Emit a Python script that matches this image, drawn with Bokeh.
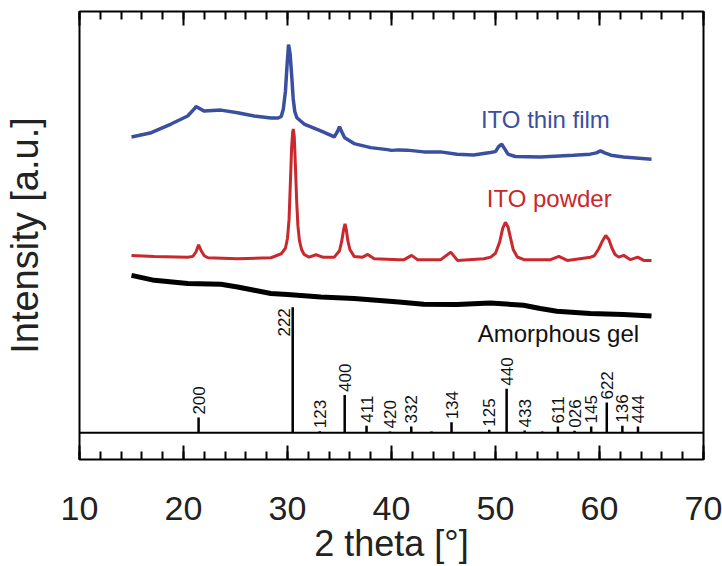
import math
from bokeh.plotting import figure
from bokeh.models import (Range1d, FixedTicker, LinearAxis, Span, Label, ColumnDataSource,
                          CustomLabelingPolicy)
from bokeh.core.properties import value
from bokeh.embed import file_html
from bokeh.resources import INLINE

# ---- data (2 theta in degrees, intensity in arbitrary units) ----
film_2theta = [15.0, 16.9, 18.8, 20.4, 21.1, 21.2, 22.0, 23.6, 25.2, 26.8, 28.4, 29.1,
               29.4, 29.6, 29.8, 29.95, 30.1, 30.25, 30.4, 30.55, 30.7, 30.9, 31.6, 33.2,
               34.5, 34.8, 35.0, 35.2, 35.5, 36.4, 38.0, 39.6, 40.0, 40.7, 41.5, 43.1,
               44.7, 46.3, 47.9, 49.5, 50.0, 50.3, 50.6, 50.9, 51.2, 51.9, 54.3, 57.5,
               59.1, 59.7, 60.1, 60.5, 61.1, 62.3, 65.0]
film_int = [235.7, 239.1, 246.0, 252.4, 258.7, 260.0, 256.3, 257.1, 255.0, 252.4, 250.8, 250.8,
            252.0, 258.0, 272.0, 292.0, 309.3, 302.0, 285.0, 266.0, 256.0, 251.0, 246.0, 240.5,
            235.7, 240.0, 243.9, 240.0, 235.0, 230.4, 227.2, 225.6, 225.0, 225.4, 225.2, 223.8,
            223.8, 222.0, 221.4, 223.3, 224.0, 228.0, 229.9, 226.0, 222.0, 220.1, 219.8, 221.2,
            222.0, 223.0, 224.6, 223.0, 221.2, 219.8, 218.0]

powder_2theta = [15.0, 17.2, 20.4, 20.9, 21.2, 21.45, 21.7, 22.0, 22.35, 25.2, 28.4, 29.4,
                 29.8, 30.0, 30.15, 30.28, 30.4, 30.5, 30.56, 30.65, 30.75, 30.88, 31.0,
                 31.15, 31.35, 31.6, 32.07, 32.74, 33.39, 34.5, 35.0, 35.2, 35.4, 35.53,
                 35.65, 35.8, 36.0, 36.4, 37.23, 37.71, 38.34, 40.74, 41.22, 41.93, 42.5,
                 44.74, 45.7, 46.34, 48.9, 49.54, 50.0, 50.4, 50.7, 50.95, 51.2, 51.45,
                 51.7, 52.1, 52.74, 55.3, 56.09, 56.9, 59.14, 59.5, 59.93, 60.3, 60.6,
                 60.9, 61.2, 61.5, 61.85, 62.33, 62.97, 63.68, 64.25, 65.0]
powder_int = [141.3, 140.5, 139.9, 140.5, 144.0, 149.8, 145.0, 141.0, 139.4, 138.6, 139.4, 142.6,
              147.0, 155.0, 170.0, 200.0, 228.0, 240.0, 242.0, 236.0, 215.0, 185.0, 165.0,
              153.0, 146.0, 142.0, 139.9, 141.8, 139.9, 139.9, 145.0, 152.0, 162.0, 166.4,
              162.0, 153.0, 146.0, 140.5, 139.9, 142.1, 138.6, 137.9, 137.9, 141.3, 137.9,
              137.9, 143.9, 137.3, 138.6, 139.9, 143.0, 152.0, 163.0, 167.7, 164.0, 155.0,
              146.0, 140.0, 137.9, 137.9, 140.5, 137.3, 139.9, 141.0, 146.6, 153.0, 157.1,
              154.0, 147.0, 142.0, 139.9, 141.3, 137.9, 139.9, 137.3, 137.3]

gel_2theta = [15.0, 17.2, 20.4, 23.6, 25.2, 26.8, 28.4, 30.0, 33.2, 36.4, 40.7, 43.1,
              46.3, 49.5, 52.7, 54.3, 55.9, 59.1, 62.3, 65.0]
gel_int = [125.4, 121.4, 118.8, 118.3, 116.1, 113.5, 110.9, 110.1, 108.2, 106.9, 104.2, 102.4,
           102.1, 103.4, 101.6, 99.0, 96.8, 95.0, 94.2, 92.9]

# reference pattern (relative intensity, %)
ref_2theta = [21.45, 30.5, 33.1, 35.5, 37.6, 39.85, 41.9, 43.85, 45.77, 49.4, 51.07, 52.8,
              54.5, 56.0, 57.6, 59.2, 60.7, 62.2, 63.7]
ref_int = [12, 100, 1.2, 30, 5.6, 1.0, 5, 1.0, 8.2, 2.4, 35, 1.8, 1.0, 5, 1.6, 5, 24, 5.5, 5]
ref_hkl = ["200", "222", "123", "400", "411", "420", "332", "", "134", "125", "440", "433",
           "", "611", "026", "145", "622", "136", "444"]

x_ticks = [10, 20, 30, 40, 50, 60, 70]
x_minor = list(range(10, 71, 2))

BLUE = "#3a4f9f"
RED = "#c9282d"
FONT = "Liberation Sans"

p = figure(width=722, height=566, output_backend="svg", toolbar_location=None,
           x_range=Range1d(10, 70), y_range=Range1d(-21.4, 335.7),
           min_border_left=78, min_border_right=19, min_border_top=10, min_border_bottom=106)
p.background_fill_color = "white"
p.border_fill_color = "white"
p.outline_line_color = "black"
p.outline_line_width = 2
p.xgrid.visible = False
p.ygrid.visible = False

# bottom axis
xa = p.xaxis[0]
xa.ticker = FixedTicker(ticks=x_ticks, minor_ticks=x_minor)
xa.axis_line_color = None
xa.major_tick_in = 14
xa.major_tick_out = 0
xa.minor_tick_in = 8
xa.minor_tick_out = 0
xa.major_tick_line_width = 2
xa.minor_tick_line_width = 2
xa.major_label_text_font = FONT
xa.major_label_text_font_size = "34px"
xa.major_label_text_color = "#222222"
xa.major_label_standoff = 37
xa.axis_label = "2 theta [°]"
xa.axis_label_text_font = FONT
xa.axis_label_text_font_size = "36px"
xa.axis_label_text_font_style = "normal"
xa.axis_label_text_color = "#222222"
xa.axis_label_standoff = 0

# top axis (ticks only, no labels)
ta = LinearAxis(ticker=FixedTicker(ticks=x_ticks, minor_ticks=x_minor))
ta.axis_line_color = None
ta.major_tick_in = 14
ta.major_tick_out = 0
ta.minor_tick_in = 8
ta.minor_tick_out = 0
ta.major_tick_line_width = 2
ta.minor_tick_line_width = 2
ta.major_label_standoff = 0
ta.major_label_policy = CustomLabelingPolicy(code="""
    const all = [...indices]
    for (const i of all) indices.unset(i)
    return indices
""")
p.add_layout(ta, "above")

# left axis: label only
ya = p.yaxis[0]
ya.ticker = FixedTicker(ticks=[])
ya.axis_line_color = None
ya.major_tick_line_color = None
ya.minor_tick_line_color = None
ya.major_tick_out = 0
ya.major_label_standoff = 0
ya.axis_label = "Intensity [a.u.]"
ya.axis_label_text_font = FONT
ya.axis_label_text_font_size = "38px"
ya.axis_label_text_font_style = "normal"
ya.axis_label_text_color = "#222222"
ya.axis_label_standoff = 34

# baseline of the reference pattern
p.add_layout(Span(location=0, dimension="width", line_color="black", line_width=2))

# curves
p.line(gel_2theta, gel_int, line_color="black", line_width=5)
p.line(powder_2theta, powder_int, line_color=RED, line_width=3)
p.line(film_2theta, film_int, line_color=BLUE, line_width=3.5)

# reference sticks
src = ColumnDataSource(dict(x=ref_2theta, y0=[0] * len(ref_2theta), y1=ref_int))
p.segment(x0="x", y0="y0", x1="x", y1="y1", source=src, line_color="black", line_width=2.5)

lab_x = [x for x, h in zip(ref_2theta, ref_hkl) if h and h != "222"]
lab_y = [y for y, h in zip(ref_int, ref_hkl) if h and h != "222"]
lab_t = [h for h in ref_hkl if h and h != "222"]
p.text(x=lab_x, y=lab_y, text=lab_t, angle=math.pi / 2, text_align="left",
       text_baseline="middle", y_offset=-3, text_font=value(FONT),
       text_font_size="17px", text_color="#111111")
i222 = ref_hkl.index("222")
p.text(x=[ref_2theta[i222]], y=[ref_int[i222]], text=["222"], angle=math.pi / 2,
       text_align="right", text_baseline="middle", x_offset=-9, y_offset=1,
       text_font=value(FONT), text_font_size="17px", text_color="#111111")

# curve labels
p.add_layout(Label(x=48.6, y=250.0, text="ITO thin film", text_color=BLUE,
                   text_font=FONT, text_font_size="24px", text_baseline="alphabetic"))
p.add_layout(Label(x=49.16, y=186.5, text="ITO powder", text_color=RED,
                   text_font=FONT, text_font_size="24px", text_baseline="alphabetic"))
p.add_layout(Label(x=48.29, y=79.2, text="Amorphous gel", text_color="#111111",
                   text_font=FONT, text_font_size="24px", text_baseline="alphabetic"))

open("out.html", "w").write(file_html(p, INLINE))
